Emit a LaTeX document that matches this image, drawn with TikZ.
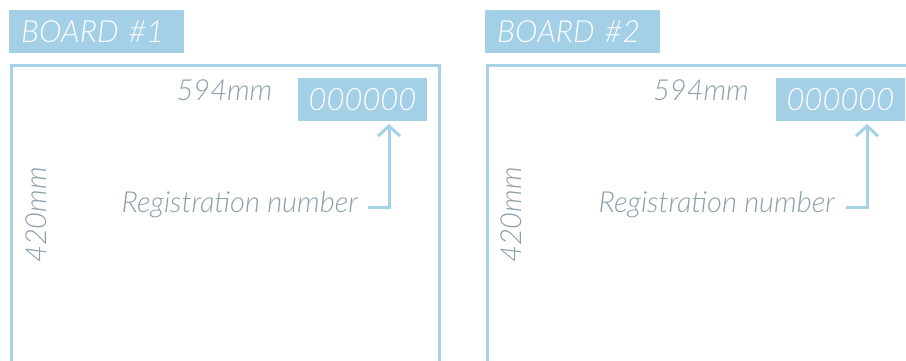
\documentclass[tikz,border=0pt]{standalone}
\usepackage{fontspec}
\setmainfont{Lato}
\newfontfamily\lightit{Lato Light Italic}
\usetikzlibrary{arrows.meta}
\definecolor{boardblue}{HTML}{A3D0E6}
\definecolor{lineblue}{HTML}{A6D2E8}
\definecolor{txtgray}{HTML}{8C9EAA}
\tikzset{
  title/.style={fill=boardblue, text=white, font=\fontsize{30.5}{30.5}\selectfont\lightit, anchor=west, inner sep=0pt, text width=175pt, minimum height=43pt, text height=23pt, text depth=0pt},
  regbox/.style={fill=boardblue, text=white, font=\fontsize{31}{31}\selectfont\lightit, inner sep=0pt, minimum width=129pt, minimum height=43pt},
  dim/.style={text=txtgray, font=\fontsize{29}{29}\selectfont\lightit, inner sep=0pt},
  frame/.style={draw=lineblue, line width=3pt},
  conn/.style={draw=lineblue, line width=3pt, -{Straight Barb[length=10pt,width=22pt,line width=3pt]}}
}
\begin{document}
\begin{tikzpicture}[x=1pt,y=-1pt]
\useasboundingbox (0,0) rectangle (906,361);
% Board 1
\node[title] (t1) at (9,31.5) {\hspace*{12pt}BOARD \#1};
\draw[frame] (11,370) -- (11,66) -- (439,66) -- (439,370);
\node[regbox] (r1) at (362.5,99.5) {000000};
\node[dim, anchor=base] (w1) at (224.5,101) {594mm};
\node[dim, anchor=base west, rotate=90] (h1) at (46,263) {420mm};
\node[dim, anchor=base east] (l1) at (358,212) {Registration number};
\coordinate (c1a) at (368,207);
\coordinate (c1b) at (389,207);
\coordinate (c1c) at (389,124);
\draw[conn] (c1a) -- (c1b) -- (c1c);
% Board 2
\node[title] (t2) at (485,31.5) {\hspace*{12pt}BOARD \#2};
\draw[frame] (487,370) -- (487,66) -- (920,66);
\node[regbox] (r2) at (840.5,99.5) {000000};
\node[dim, anchor=base] (w2) at (701,101) {594mm};
\node[dim, anchor=base west, rotate=90] (h2) at (521,263) {420mm};
\node[dim, anchor=base east] (l2) at (835,212) {Registration number};
\coordinate (c2a) at (846,207);
\coordinate (c2b) at (867,207);
\coordinate (c2c) at (867,124);
\draw[conn] (c2a) -- (c2b) -- (c2c);
\end{tikzpicture}
\end{document}
